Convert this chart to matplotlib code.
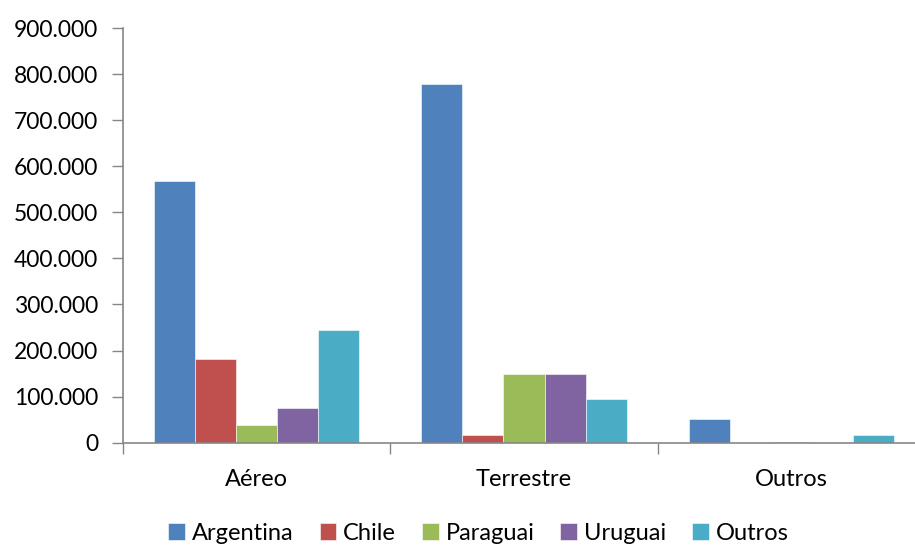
import matplotlib.pyplot as plt
from matplotlib.ticker import FuncFormatter, MultipleLocator, FixedLocator
import numpy as np

categories = ["Aéreo", "Terrestre", "Outros"]
series_names = ["Argentina", "Chile", "Paraguai", "Uruguai", "Outros"]
argentina = [567000, 778000, 52000]
chile = [181000, 17000, 0]
paraguai = [38000, 149000, 2000]
uruguai = [75000, 149000, 0]
outros = [245000, 94000, 17000]

colors = ["#4F81BD", "#C0504D", "#9BBB59", "#8064A2", "#4BACC6"]
axis_gray = "#868686"

plt.rcParams["font.family"] = ["Lato", "DejaVu Sans"]

fig = plt.figure(figsize=(9.15, 5.46), dpi=100)
ax = fig.add_axes([123 / 915, 0.1892, 802 / 915, 0.9487 - 0.1892])

values = [argentina, chile, paraguai, uruguai, outros]
n = len(values)
bar_w = 1 / (n + 1.5)
x = np.arange(len(categories))
for i, (name, vals) in enumerate(zip(series_names, values)):
    offs = (i - (n - 1) / 2) * bar_w
    ax.bar(x + offs, vals, bar_w, color=colors[i], label=name,
           edgecolor="#ffffff", linewidth=0.4)

ax.set_xlim(-0.5, len(categories) - 0.5)
ax.set_ylim(0, 900000)
ax.yaxis.set_major_locator(MultipleLocator(100000))
ax.yaxis.set_major_formatter(FuncFormatter(lambda v, p: f"{v:,.0f}".replace(",", ".")))

ax.set_xticks(x, labels=categories)
ax.xaxis.set_minor_locator(FixedLocator(np.arange(-0.5, len(categories), 1)))
ax.tick_params(axis="x", which="major", length=0, pad=19, labelsize=17)
ax.tick_params(axis="x", which="minor", length=8, width=1, color=axis_gray, direction="out")
ax.tick_params(axis="y", length=8, width=1, color=axis_gray, direction="out", labelsize=16.5, pad=10)

for side in ["top", "right"]:
    ax.spines[side].set_visible(False)
for side in ["left", "bottom"]:
    ax.spines[side].set_color(axis_gray)
    ax.spines[side].set_linewidth(1.2)

fig.legend(loc="center", bbox_to_anchor=(478.5 / 915, 13 / 546), ncol=5, frameon=False,
           fontsize=17, handlelength=0.7, handleheight=0.7, handletextpad=0.3,
           columnspacing=1.1, borderpad=0)

fig.savefig("out.png", dpi=100, facecolor="white")
